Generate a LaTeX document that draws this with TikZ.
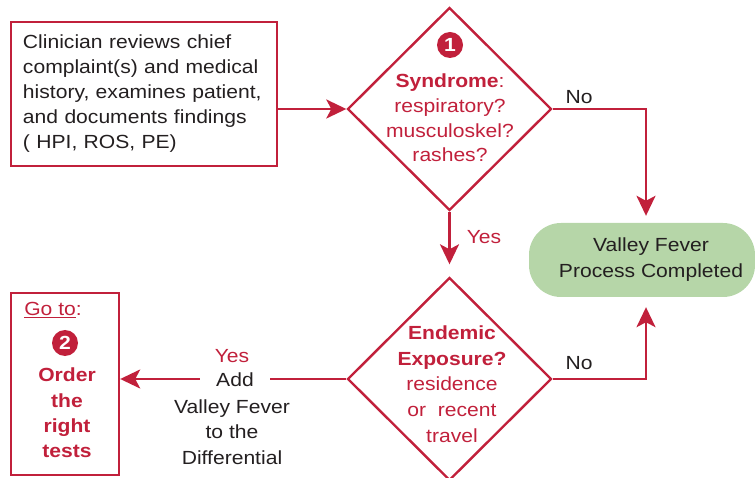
\documentclass[tikz,border=0pt]{standalone}
\usepackage{fontspec}
\setmainfont[FakeStretch=1.11]{Liberation Sans}
\usetikzlibrary{shapes.geometric,arrows.meta,calc}
\definecolor{vred}{HTML}{C1203B}
\definecolor{vgreen}{HTML}{B6D6A8}
\definecolor{vtext}{HTML}{231F20}
\begin{document}
\begin{tikzpicture}[x=1pt,y=1pt,
  every node/.style={font=\fontsize{19}{25}\selectfont, text=vtext},
  line/.style={draw=vred, line width=2.4pt},
  arr/.style={line, -{Stealth[length=20pt,width=19pt,inset=5pt]}},
  dec/.style={diamond, draw=vred, line width=2.4pt, inner sep=0pt, minimum width=204pt, minimum height=203pt},
  redtxt/.style={text=vred, align=center, inner sep=0pt},
  numc/.style={circle, fill=vred, minimum size=26pt, inner sep=0pt, text=white, font=\fontsize{19}{19}\selectfont\bfseries}
]
\useasboundingbox (0,0) rectangle (755,477);

% start box
\node[draw=vred, line width=2.4pt, minimum width=266pt, minimum height=144pt,
      text width=242pt, inner sep=0pt, align=left] (start) at (144,383)
  {Clinician reviews chief\\complaint(s) and medical\\history, examines patient,\\and documents findings\\( HPI, ROS, PE)};

% decision 1
\node[dec] (d1) at (449.5,368) {};
\node[numc] (n1) at (450,432) {1};
\node[redtxt, font=\fontsize{19}{24.8}\selectfont] (t1) at (450,359)
  {\textbf{Syndrome}:\\respiratory?\\musculoskel?\\rashes?};

% decision 2
\node[dec] (d2) at (449.5,98) {};
\node[redtxt, font=\fontsize{19}{25.7}\selectfont] (t2) at (452,93)
  {\textbf{Endemic}\\\textbf{Exposure?}\\residence\\or\ \ recent\\travel};

% terminal
\node[fill=vgreen, rounded corners=32pt, minimum width=226pt, minimum height=74pt,
      inner sep=0pt] (term) at (642,217) {};
\node[align=center, inner sep=0pt] (termtxt) at (651,217)
  {Valley Fever\\[1pt]Process Completed};

% go to box
\node[draw=vred, line width=2.4pt, minimum width=108pt, minimum height=182pt] (goto) at (65,93) {};
\node[text=vred, inner sep=0pt] (goto1) at (53,167) {\underline{Go to}:};
\node[numc] (n2) at (65,134) {2};
\node[redtxt, font=\fontsize{19}{25.3}\selectfont\bfseries] (goto2) at (67,64)
  {Order\\the\\right\\tests};

% add label
\node[inner sep=0pt, minimum width=70pt] (add) at (235,97) {Add};
\node[text=vred, inner sep=0pt] (yes2) at (232,121) {Yes};
\node[align=center, inner sep=0pt, font=\fontsize{19}{25.5}\selectfont] (addtxt) at (232,45)
  {Valley Fever\\to the\\Differential};

% connectors
\draw[arr] (start.east |- d1.west) -- (d1.west);
\draw[arr, shorten >=7pt] (d1.east) -| ([xshift=4pt]term.north);
\draw[arr, shorten >=12pt] (d1.south) -- (d2.north);
\draw[arr, shorten >=10pt] (d2.east) -| ([xshift=4pt]term.south);
\draw[line] (d2.west) -- (add.east |- d2.west);
\draw[arr] (add.west |- d2.west) -- (goto.east |- d2.west);

% edge labels
\node[inner sep=0pt] (no1) at (579,380) {No};
\node[text=vred, inner sep=0pt] (yes1) at (484,240) {Yes};
\node[inner sep=0pt] (no2) at (579,114) {No};
\end{tikzpicture}
\end{document}
